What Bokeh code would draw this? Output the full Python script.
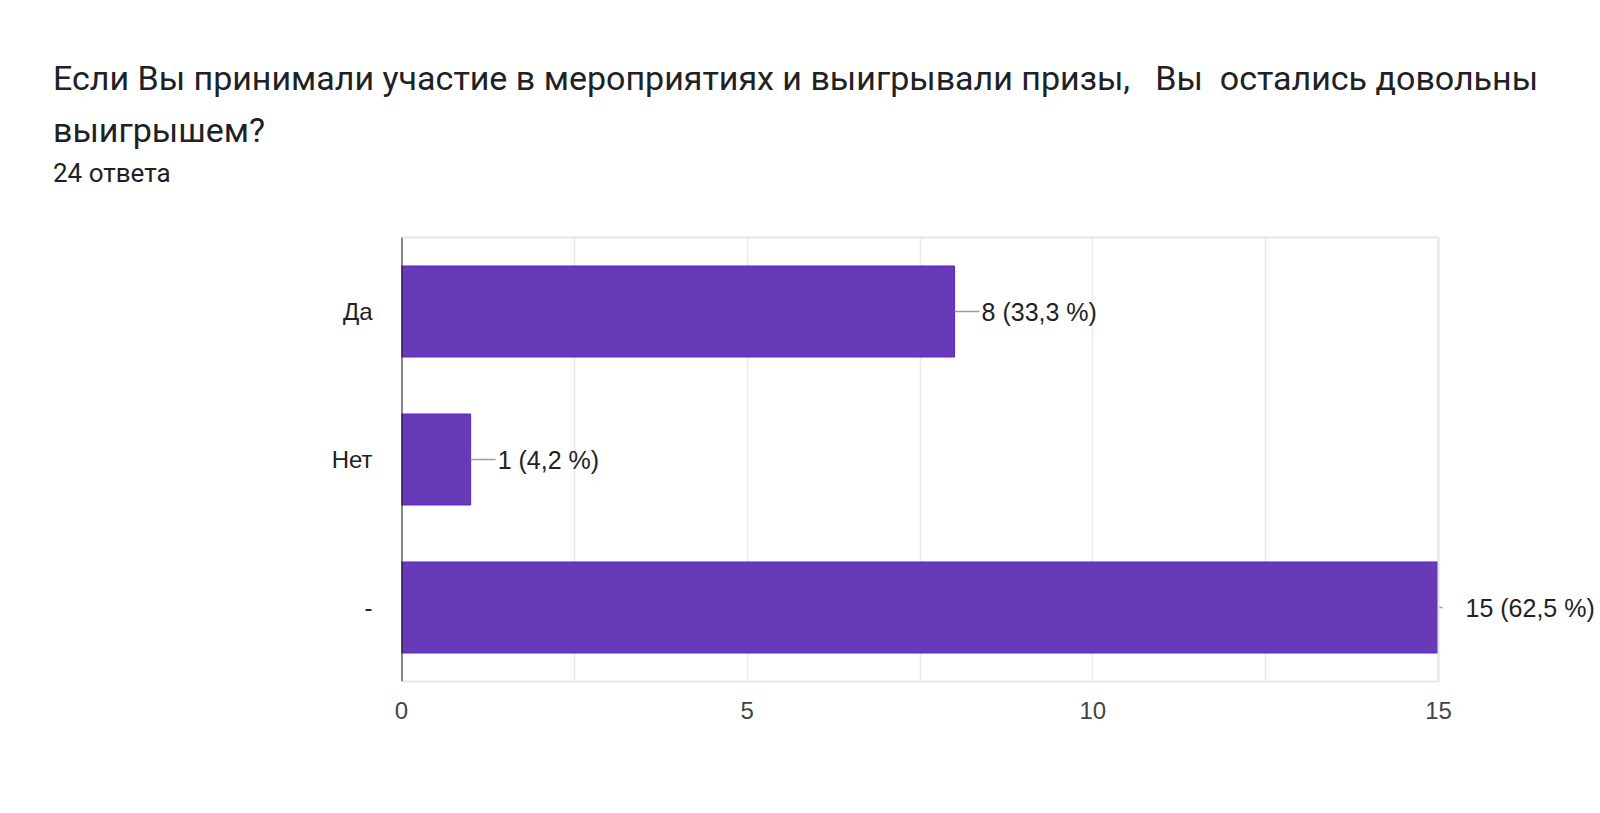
from bokeh.plotting import figure
from bokeh.layouts import column
from bokeh.models import Range1d, FactorRange, Span, SingleIntervalTicker, ColumnDataSource, LinearAxis, Div
from bokeh.core.properties import value
from bokeh.embed import file_html
from bokeh.resources import INLINE

title_lines = [
    "Если Вы принимали участие в мероприятиях и выигрывали призы,   Вы  остались довольны",
    "выигрышем?",
]
subtitle = "24 ответа"
categories = ["Да", "Нет", "-"]
counts = [8, 1, 15]
percents = ["33,3", "4,2", "62,5"]
x_ticks_interval = 5
x_max = 15

labels = [f"{c} ({p} %)" for c, p in zip(counts, percents)]
leader_len = [25 if c < x_max else 4 for c in counts]
src = ColumnDataSource(dict(cat=categories, cnt=counts, lab=labels, lead=leader_len))

# layout geometry (pixels)
W, H, HEAD = 1600, 813, 200
frame_left, frame_right_axis, frame_top, frame_bottom = 401, 1438, 237, 681
px_per_unit = (frame_right_axis - frame_left) / x_max
x_end = x_max + (W - frame_right_axis) / px_per_unit  # frame extends to canvas edge so labels are not clipped

head = Div(
    text=(
        '<div style="position:relative;width:1600px;height:200px;font-family:Roboto;color:#202124">'
        f'<div style="position:absolute;left:53px;top:52px;font-size:34px;line-height:52px;white-space:pre">{title_lines[0]}<br>{title_lines[1]}</div>'
        f'<div style="position:absolute;left:53px;top:158px;font-size:26px;line-height:30px;white-space:pre">{subtitle}</div>'
        '</div>'
    ),
    width=W, height=HEAD, margin=0,
)

p = figure(width=W, height=H - HEAD, output_backend="svg", toolbar_location=None,
           x_range=Range1d(0, x_end), y_range=FactorRange(factors=list(reversed(categories))),
           min_border_left=frame_left, min_border_right=0,
           min_border_top=frame_top - HEAD, min_border_bottom=H - frame_bottom, margin=0)
p.background_fill_color = "white"
p.border_fill_color = "white"
p.outline_line_color = None

p.hbar(y="cat", left=0, right="cnt", height=0.615, source=src,
       fill_color="#673ab7", line_color="#5e24c4", line_width=1)

p.ray(x="cnt", y="cat", length="lead", angle=0, length_units="screen", source=src,
      line_color="#9e9e9e", line_width=1.5)
p.text(x="cnt", y="cat", text="lab", source=src, x_offset=27, text_baseline="middle",
       text_align="left", text_font=value("Liberation Sans"), text_font_size="25px",
       text_color="#222222")

p.xgrid.ticker = SingleIntervalTicker(interval=x_ticks_interval / 2)
p.xgrid.bounds = (0, x_max)
p.xgrid.grid_line_color = "#ebebeb"
p.xgrid.grid_line_width = 1.5
p.ygrid.grid_line_color = None

p.xaxis.ticker = SingleIntervalTicker(interval=x_ticks_interval)
p.xaxis.bounds = (0, x_max)
p.xaxis.axis_line_color = "#e6e6e6"
p.xaxis.axis_line_width = 2
p.xaxis.major_tick_line_color = None
p.xaxis.minor_tick_line_color = None
p.xaxis.major_label_standoff = 14
p.xaxis.major_label_text_font = "Liberation Sans"
p.xaxis.major_label_text_font_size = "24px"
p.xaxis.major_label_text_color = "#444444"

top_axis = LinearAxis(bounds=(0, x_max), axis_line_color="#e6e6e6", axis_line_width=2,
                      major_tick_line_color=None, minor_tick_line_color=None,
                      major_label_text_font_size="0px", major_label_text_color=None)
p.add_layout(top_axis, "above")

p.yaxis.axis_line_color = None
p.yaxis.major_tick_line_color = None
p.yaxis.minor_tick_line_color = None
p.yaxis.major_label_standoff = 23
p.yaxis.major_label_text_font = "Liberation Sans"
p.yaxis.major_label_text_font_size = "24px"
p.yaxis.major_label_text_color = "#222222"

p.add_layout(Span(location=x_max, dimension="height", line_color="#e6e6e6", line_width=2))
p.add_layout(Span(location=0, dimension="height", line_color="#111111", line_width=2))

layout = column(head, p, spacing=0, margin=0)
open("out.html", "w").write(file_html(layout, INLINE))
